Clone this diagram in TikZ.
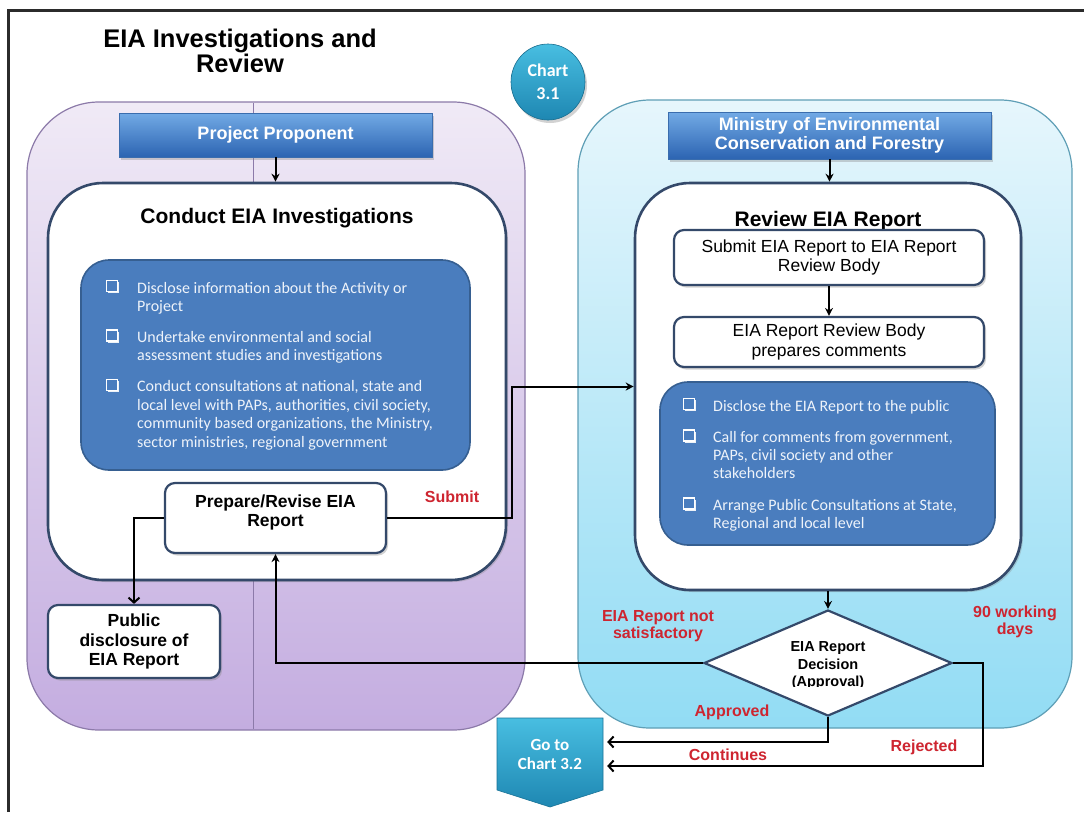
\documentclass[tikz,border=0pt]{standalone}
\usepackage{fontspec}
\setmainfont{Liberation Sans}
\newfontfamily\calib{Carlito}
\usetikzlibrary{shapes.geometric,arrows.meta,shadows}
\newcommand{\fsz}[2]{\fontsize{#1}{#2}\selectfont}

\definecolor{frame}{HTML}{2B2B2B}
\definecolor{lilacT}{HTML}{F0EAF6}
\definecolor{lilacB}{HTML}{C4ADE0}
\definecolor{lilacLine}{HTML}{8C7AA9}
\definecolor{skyT}{HTML}{E6F6FC}
\definecolor{skyB}{HTML}{92DCF4}
\definecolor{skyLine}{HTML}{5F9FB6}
\definecolor{hdrT}{HTML}{72AAE5}
\definecolor{hdrB}{HTML}{2C64B2}
\definecolor{hdrLine}{HTML}{3A6DAE}
\definecolor{navy}{HTML}{34496A}
\definecolor{listfill}{HTML}{4A7DBE}
\definecolor{listline}{HTML}{365F91}
\definecolor{itemtxt}{HTML}{EEF3FA}
\definecolor{alert}{HTML}{CE2530}
\definecolor{tealT}{HTML}{48BEE1}
\definecolor{tealB}{HTML}{1E87B2}

\begin{document}
\begin{tikzpicture}[x=1pt,y=-1pt,
  every node/.style={inner sep=0pt},
  lane/.style={rounded corners=72pt, line width=1.2pt},
  divider/.style={draw=lilacLine, line width=0.9pt},
  hdr/.style={draw=hdrLine, line width=0.8pt, top color=hdrT, bottom color=hdrB,
    text=white, align=center, font=\bfseries\fsz{18}{19},
    drop shadow={shadow xshift=1.5pt, shadow yshift=-3pt, opacity=.35}},
  bigbox/.style={draw=navy, line width=2.6pt, fill=white, rounded corners=55pt,
    drop shadow={shadow xshift=2pt, shadow yshift=-2pt, opacity=.3}},
  boxtitle/.style={anchor=base, font=\bfseries\fsz{21}{24}, text=black},
  stepbox/.style={draw=navy, line width=2.2pt, fill=white, rounded corners=10pt,
    align=center, font=\fsz{17.5}{19.3},
    drop shadow={shadow xshift=2pt, shadow yshift=-2.5pt, opacity=.35}},
  listbox/.style={draw=listline, line width=1.6pt, fill=listfill, rounded corners=28pt},
  chk/.style={draw=white, line width=1.7pt, minimum size=11pt, fill=listfill,
    drop shadow={shadow xshift=1.4pt, shadow yshift=-1.8pt, fill=white, opacity=.9}},
  item/.style={anchor=base west, text=itemtxt, font=\calib\fsz{16}{18.5}},
  redlbl/.style={text=alert, align=center, font=\bfseries\fsz{16}{17}},
  arr/.style={draw=black, line width=2pt, -{Stealth[length=8pt,width=8pt]}},
  barb/.style={draw=black, line width=2pt, -{Straight Barb[length=5pt,width=11pt]}}
]
\useasboundingbox (0,0) rectangle (1084,812);
\fill[white] (0,0) rectangle (1084,812);

% swim lanes
\node[lane, draw=lilacLine, top color=lilacT, bottom color=lilacB,
  minimum width=498pt, minimum height=628pt] (laneL) at (276,416) {};
\node[lane, draw=skyLine, top color=skyT, bottom color=skyB,
  minimum width=494pt, minimum height=628pt] (laneR) at (825,414) {};
\draw[divider] (253,103) -- (253,729);

% outer frame
\draw[frame, line width=3pt] (8,812) -- (8,10) -- (1084,10);

% heading
\node[anchor=base, font=\bfseries\fsz{25.5}{26}] (title1) at (240,47) {EIA Investigations and};
\node[anchor=base, font=\bfseries\fsz{25.5}{26}] (title2) at (240,72) {Review};

% chart badge
\node[ellipse, top color=tealT, bottom color=tealB, draw=tealB!80!black, line width=0.6pt,
  minimum width=74pt, minimum height=76pt, text=white, align=center,
  font=\calib\bfseries\fsz{18}{23},
  drop shadow={shadow xshift=2pt, shadow yshift=-3pt, opacity=.35}] (chart) at (548,82) {Chart\\3.1};

% ---- proponent side ----
\node[hdr, minimum width=313pt, minimum height=44pt] (pp) at (275.5,135) {Project Proponent};
\node[bigbox, minimum width=458pt, minimum height=397pt] (conduct) at (277,381.5) {};
\node[boxtitle] (conductT) at (277,223) {Conduct EIA Investigations};
\node[listbox, minimum width=389pt, minimum height=210pt] (listL) at (275.5,365) {};

\foreach \y [count=\i] in {286,335.5,385}
  \node[chk] (cl\i) at (112,\y) {};
\foreach \y/\t [count=\i] in {
  293/{Disclose information about the Activity or},
  311.5/{Project},
  342/{Undertake environmental and social},
  360.5/{assessment studies and investigations},
  391.5/{Conduct consultations at national, state and},
  410/{local level with PAPs, authorities, civil society,},
  428.5/{community based organizations, the Ministry,},
  447/{sector ministries, regional government}}
  \node[item] (tl\i) at (137,\y) {\t};

\node[stepbox, minimum width=221pt, minimum height=70pt, font=\bfseries\fsz{17.5}{19}] (prep) at (275.5,518)
  {Prepare/Revise EIA\\Report\\[-4pt]};
\node[stepbox, minimum width=172pt, minimum height=73pt, font=\bfseries\fsz{17.5}{19.3}] (pub) at (134,641.5)
  {Public\\disclosure of\\EIA Report};

% ---- ministry side ----
\node[hdr, minimum width=323pt, minimum height=47pt] (min) at (829.5,135.5)
  {Ministry of Environmental\\Conservation and Forestry};
\node[bigbox, minimum width=386pt, minimum height=407pt] (review) at (828,386.5) {};
\node[boxtitle] (reviewT) at (828,226) {Review EIA Report};
\node[stepbox, minimum width=310pt, minimum height=55pt] (sub) at (829,257.5)
  {Submit EIA Report to EIA Report\\Review Body};
\node[stepbox, minimum width=310pt, minimum height=50pt, font=\fsz{17.5}{20}] (com) at (829,342)
  {EIA Report Review Body\\prepares comments};
\node[listbox, minimum width=335pt, minimum height=163pt] (listR) at (827.5,463.5) {};

\foreach \y [count=\i] in {404,435.5,503.5}
  \node[chk] (cr\i) at (689,\y) {};
\foreach \y/\t [count=\i] in {
  411/{Disclose the EIA Report to the public},
  442/{Call for comments from government,},
  460/{PAPs, civil society and other},
  478/{stakeholders},
  510/{Arrange Public Consultations at State,},
  528/{Regional and local level}}
  \node[item] (tr\i) at (713,\y) {\t};

% decision
\node[diamond, draw=navy, line width=2.2pt, fill=white,
  minimum width=248pt, minimum height=106pt] (dec) at (828,663) {};
\begin{scope}
  \clip (700,625) rectangle (960,686);
  \node[align=center, font=\bfseries\fsz{14.5}{17.5}] (decT) at (828,666)
    {EIA Report\\Decision\\(Approval)};
\end{scope}

% next chart
\shade[top color=tealT, bottom color=tealB, draw=tealB!85!black, line width=0.6pt]
  (497,718) -- (603,718) -- (603,790) -- (550,807) -- (497,790) -- cycle;
\node[minimum width=106pt, minimum height=72pt, align=center, text=white,
  font=\calib\bfseries\fsz{17}{19}] (goto) at (550,754) {Go to\\Chart 3.2};
\coordinate (in1) at ([xshift=4pt,yshift=12pt]goto.east);
\coordinate (in2) at ([xshift=4pt,yshift=-12pt]goto.east);

% connectors
\draw[arr] (pp.south) -- (pp.south |- conduct.north);
\draw[arr] (min.south) -- (min.south |- review.north);
\draw[arr] (sub.south) -- (sub.south |- com.north);
\draw[arr] (prep.east) -- ++(125,0) |- (review.west);
\draw[barb] (prep.west) -| (pub.north);
\draw[arr] (review.south) -- (dec.north);
\draw[arr] (dec.west) -| (prep.south);
\draw[barb] (dec.south) |- (in1);
\draw[barb] (dec.east) -- ++(30,0) |- (in2);

% labels
\node[redlbl] (lSubmit) at (452,497) {Submit};
\node[redlbl] (lNot) at (658,626) {EIA Report not\\satisfactory};
\node[redlbl] (lDays) at (1015,622) {90 working\\days};
\node[redlbl] (lApp) at (732,712) {Approved};
\node[redlbl] (lCont) at (728,755) {Continues};
\node[redlbl] (lRej) at (924,747) {Rejected};
\end{tikzpicture}
\end{document}
